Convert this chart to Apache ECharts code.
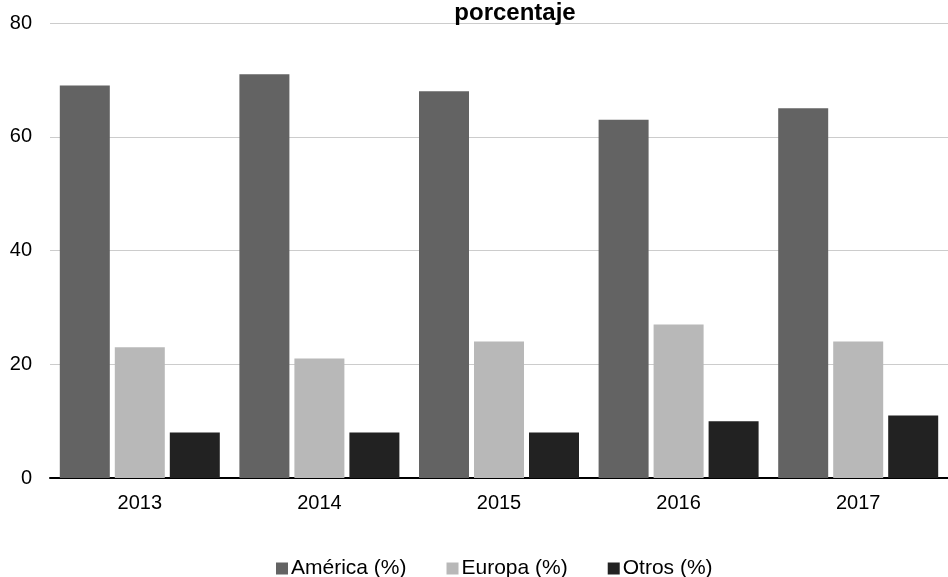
<!DOCTYPE html>
<html>
<head>
<meta charset="utf-8">
<script src="https://cdn.jsdelivr.net/npm/echarts@6/dist/echarts.min.js"></script>
<style>
html,body{margin:0;padding:0;background:#fff;}
#chart{width:948px;height:577px;}
</style>
</head>
<body>
<div id="chart"></div>
<script>
// Share by region, per year
const years = ['2013', '2014', '2015', '2016', '2017'];
const america = [69, 71, 68, 63, 65];
const europa = [23, 21, 24, 27, 24];
const otros = [8, 8, 8, 10, 11];
const yTicks = { min: 0, max: 80, interval: 20 };

const font = 'Liberation Sans, Arial, sans-serif';

const chart = echarts.init(document.getElementById('chart'), null, { renderer: 'canvas' });

function barSeries(name, data, color) {
  return {
    name: name,
    type: 'bar',
    data: data,
    barWidth: 50,
    barGap: '10%',
    itemStyle: { color: color },
    emphasis: { disabled: true }
  };
}

chart.setOption({
  animation: false,
  backgroundColor: '#ffffff',
  title: {
    text: 'porcentaje',
    left: 515,
    textAlign: 'center',
    top: 1,
    padding: 0,
    textStyle: { fontFamily: font, fontSize: 24, fontWeight: 'bold', color: '#000' }
  },
  grid: { left: 50, top: 23, width: 900, height: 455, containLabel: false },
  legend: {
    top: 558,
    left: 276,
    padding: 0,
    itemWidth: 12,
    itemHeight: 12,
    itemGap: 40,
    icon: 'rect',
    textStyle: { fontFamily: font, fontSize: 21, color: '#000', padding: [0, 0, 0, -2] },
    data: ['América (%)', 'Europa (%)', 'Otros (%)']
  },
  xAxis: {
    type: 'category',
    data: years,
    axisLine: { lineStyle: { color: '#000', width: 2 } },
    axisTick: { show: false },
    axisLabel: { fontFamily: font, fontSize: 20, color: '#000', margin: 15 }
  },
  yAxis: {
    type: 'value',
    min: yTicks.min,
    max: yTicks.max,
    interval: yTicks.interval,
    axisLine: { show: false },
    axisTick: { show: false },
    splitLine: { lineStyle: { color: '#cccccc', width: 1 } },
    axisLabel: { fontFamily: font, fontSize: 20, color: '#000', margin: 18 }
  },
  series: [
    barSeries('América (%)', america, '#636363'),
    barSeries('Europa (%)', europa, '#b8b8b8'),
    barSeries('Otros (%)', otros, '#222222')
  ]
});
</script>
</body>
</html>
